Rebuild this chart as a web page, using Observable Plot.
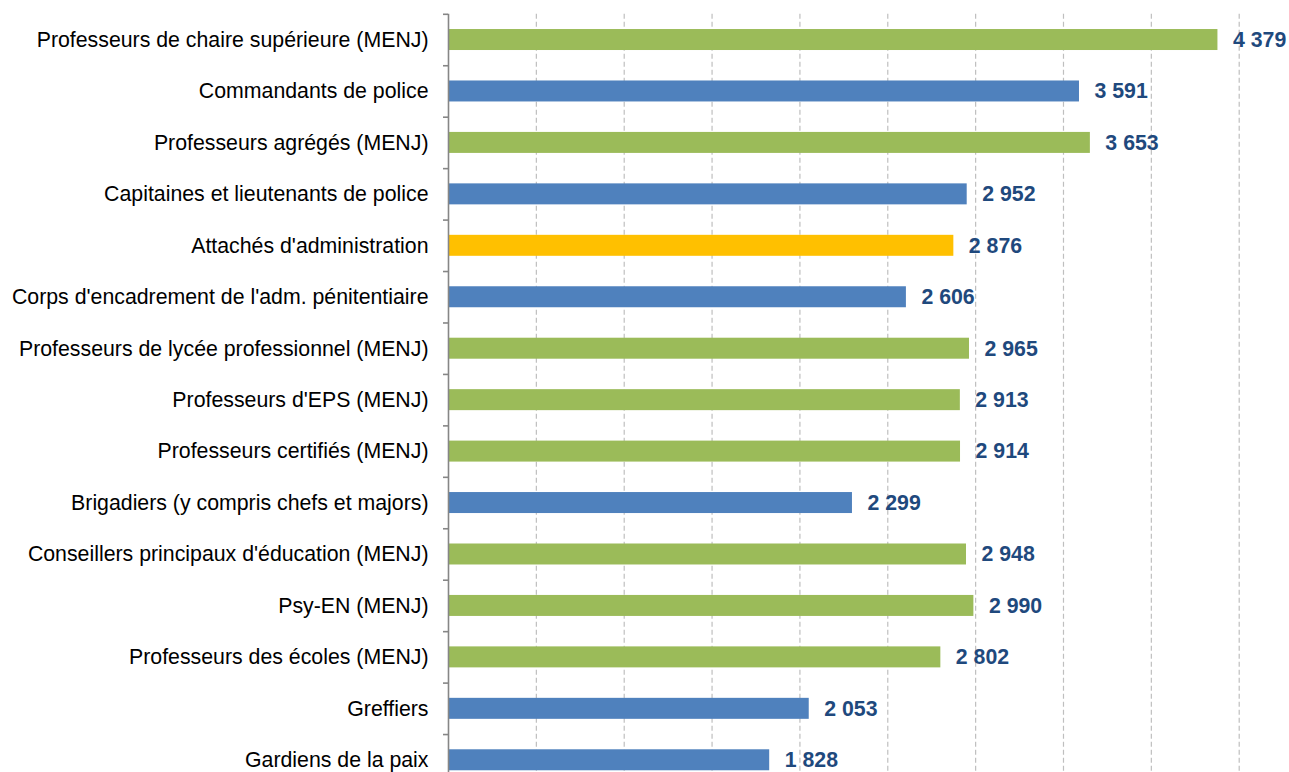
<!DOCTYPE html>
<html>
<head>
<meta charset="utf-8">
<script src="https://cdn.jsdelivr.net/npm/d3@7"></script>
<script src="https://cdn.jsdelivr.net/npm/@observablehq/plot@0.6"></script>
<style>
  html, body { margin: 0; padding: 0; background: #fff; overflow: hidden; }
  #chart svg { display: block; }
</style>
</head>
<body>
<div id="chart"></div>
<script>
const categories = [
  "Professeurs de chaire supérieure (MENJ)",
  "Commandants de police",
  "Professeurs agrégés (MENJ)",
  "Capitaines et lieutenants de police",
  "Attachés d'administration",
  "Corps d'encadrement de l'adm. pénitentiaire",
  "Professeurs de lycée professionnel (MENJ)",
  "Professeurs d'EPS (MENJ)",
  "Professeurs certifiés (MENJ)",
  "Brigadiers (y compris chefs et majors)",
  "Conseillers principaux d'éducation (MENJ)",
  "Psy-EN (MENJ)",
  "Professeurs des écoles (MENJ)",
  "Greffiers",
  "Gardiens de la paix"
];
const values = [4379, 3591, 3653, 2952, 2876, 2606, 2965, 2913, 2914, 2299, 2948, 2990, 2802, 2053, 1828];
const groups = ["MENJ", "Autre", "MENJ", "Autre", "Attachés", "Autre", "MENJ", "MENJ", "MENJ", "Autre", "MENJ", "MENJ", "MENJ", "Autre", "Autre"];
const groupNames = ["MENJ", "Autre", "Attachés"];
const groupColors = ["#9BBB59", "#4F81BD", "#FFC000"];
const gridTicks = [500, 1000, 1500, 2000, 2500, 3000, 3500, 4000, 4500];

const data = categories.map((c, i) => ({category: c, value: values[i], group: groups[i]}));
const fmt = d3.formatLocale({decimal: ",", thousands: " ", grouping: [3], currency: ["", " €"]}).format(",d");

const width = 1289, height = 800, marginTop = 13.8, marginBottom = 14.5;
const step = (height - marginTop - marginBottom) / categories.length;

const chart = Plot.plot({
  width, height,
  marginLeft: 448, marginRight: 50.3, marginTop, marginBottom,
  style: {fontFamily: "'Liberation Sans', Arial, sans-serif", background: "#fff"},
  x: {domain: [0, 4500], axis: null},
  y: {domain: categories, paddingInner: 0.592, paddingOuter: 0.296, round: false, axis: null},
  color: {domain: groupNames, range: groupColors},
  marks: [
    Plot.ruleX(gridTicks, {stroke: "#BFBFBF", strokeWidth: 1.2, strokeDasharray: "5,3"}),
    Plot.barX(data, {x: "value", y: "category", fill: "group", insetLeft: 1}),
    Plot.ruleX([0], {stroke: "#868686", strokeWidth: 1.6}),
    Plot.ruleY(categories, {y: d => d, x1: -28.5, x2: 0, dy: -step / 2, stroke: "#868686", strokeWidth: 1.6}),
    Plot.axisY({tickSize: 0, tickPadding: 20, fontSize: 21.3, fill: "#000", label: null}),
    Plot.text(data, {x: "value", y: "category", text: d => fmt(d.value), dx: 15, textAnchor: "start",
      fontSize: 21.3, fontWeight: "bold", fill: "#1F497D"})
  ]
});
document.getElementById("chart").appendChild(chart);
</script>
</body>
</html>
